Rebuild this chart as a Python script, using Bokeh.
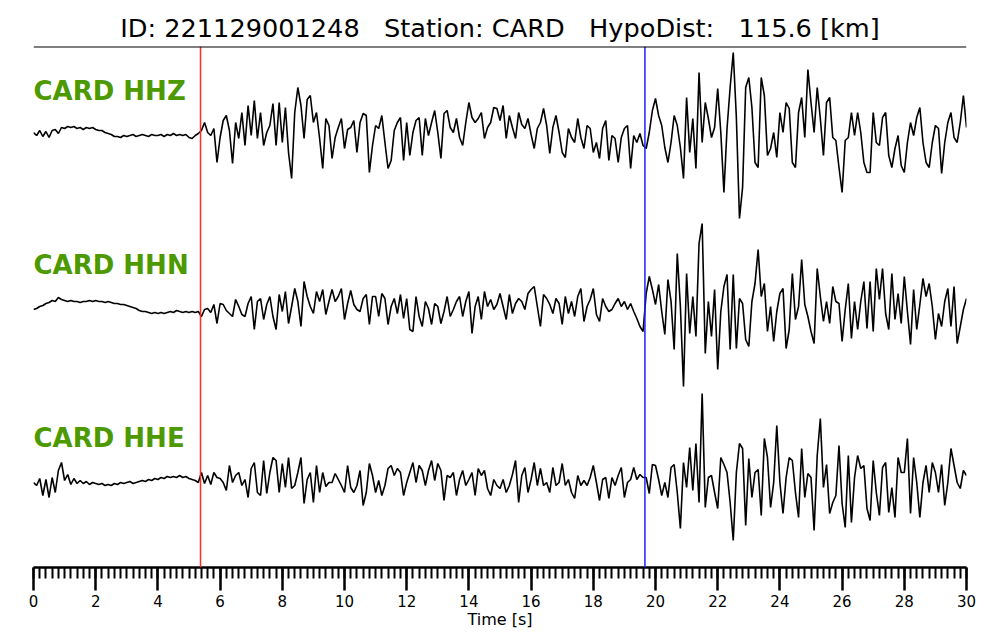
import numpy as np
from bokeh.plotting import figure
from bokeh.models import Range1d, Span, FixedTicker
from bokeh.embed import file_html
from bokeh.resources import INLINE
from bokeh.core.properties import value

# ---------------- data ----------------
DT = 0.1  # sample interval [s]

hhz = [
    0, -3, 2, -4, 1, -5, 2, 3, -1, 5,
    4, 6, 5, 6, 4, 5, 3, 5, 4, 5,
    3, 2, 2, 0, -1, -2, -4, -4, -5, -3,
    -4, -3, -2, -4, -3, -2, -3, -4, -2, -3,
    -3, -2, -4, -2, -3, -1, -3, -2, -3, -2,
    -5, -6, -3, -1, 2, 10, 0, -3, 4, -30,
    -5, 12, 17, 2, -31, 10, -6, 20, -13, 27,
    -3, 32, -6, 20, -13, 0, 7, 29, -13, 30,
    -10, 25, -20, -46, 20, 45, 27, -6, 33, 37,
    10, 20, -6, -36, 14, 7, -26, -5, 5, 14,
    -16, 3, 5, 12, -20, 10, 19, 17, -40, -13,
    7, 4, 17, -10, -36, -28, 2, 10, 15, -28,
    10, -23, 0, 12, 15, -23, 14, -3, 10, 22,
    0, -26, 19, 22, 5, 0, 14, -5, -13, 10,
    30, 15, 10, 14, 20, -6, 5, 10, 25, 24,
    12, 27, -6, 17, 5, -6, 20, 8, 4, 14,
    -2, -16, 4, 10, 24, 7, -21, 5, 17, 0,
    -20, -25, 4, -5, -10, 14, -5, -16, 7, 4,
    -20, -10, -26, 4, 12, -28, -3, -6, -30, -5,
    4, 7, -36, -3, -10, -1, -13, -16, 0, 22,
    34, 17, 7, -15, -30, -10, 17, 7, -15, -46,
    35, -20, 14, -36, 60, -10, 30, 14, -5, 5,
    44, 0, -60, 4, 45, 80, 15, -86, -55, 45,
    55, 25, -30, -35, 55, 37, -23, -16, 0, -25,
    20, 0, 30, 24, -30, -35, 20, 35, -5, 63,
    30, 0, 45, 14, -23, 30, 35, -5, -8, -35,
    -60, -8, -5, 20, -3, 20, 0, -30, -40, -40,
    20, -10, -13, 15, 20, -23, -35, -16, -3, -33,
    -40, -10, 10, -3, 15, 25, -10, -30, -35, -10,
    7, 4, -41, -10, 10, 20, -5, -10, 10, 37,
    5,
]

hhn = [
    -3, -2, 0, 1, 3, 4, 6, 5, 9, 7,
    6, 5, 6, 5, 5, 4, 5, 5, 6, 5,
    6, 5, 5, 4, 5, 4, 3, 3, 2, 2,
    1, 0, -1, -2, -4, -5, -5, -6, -7, -6,
    -7, -6, -7, -6, -5, -6, -4, -5, -6, -5,
    -6, -5, -6, -5, -10, -3, -2, -6, 2, -17,
    3, 2, -4, -7, -10, 7, 0, -8, -10, 3,
    10, -23, 5, 8, -13, 2, 10, -10, -23, 12,
    -5, 15, -17, 0, 18, 5, -20, 25, 10, 0,
    -7, 15, 5, 17, -8, 5, 17, 5, 10, 18,
    -13, 3, 16, 2, -3, -5, 8, 12, -18, 10,
    10, -10, 13, 8, -18, 0, 8, -7, 12, -12,
    8, -23, -25, 10, -10, -20, 5, -2, -18, 3,
    0, -17, -5, 10, -10, -3, 5, 10, -10, 5,
    15, -27, 0, 10, -13, 15, 0, 7, -3, 2,
    13, 0, -13, 12, -7, 3, 8, 5, -3, 13,
    17, 20, 0, -20, 12, 8, 2, -7, 8, 3,
    -18, 10, -7, 5, -10, 10, 18, -15, 0, 7,
    18, -8, -15, 8, 0, -5, -3, 3, 8, 0,
    5, -3, 3, -5, -12, -20, -25, 13, 30, 17,
    2, 22, -5, -28, 27, 5, -43, 53, 0, -80,
    33, -27, 10, -30, 63, 83, -47, 5, -30, 17,
    -63, -5, 20, 32, -43, 32, -42, 8, 3, -33,
    -40, 5, 23, 57, 10, 23, -25, 0, -35, -5,
    13, 18, -42, -23, 33, -13, 0, 47, 2, -10,
    -25, -37, 38, 10, -15, 5, -17, 20, 5, 3,
    -35, -3, 23, -32, 5, -23, 5, 25, -22, 25,
    -25, 38, 7, 38, -7, -23, 33, -13, 13, -17,
    30, -5, -38, 17, -23, 2, 28, 10, 23, 0,
    -33, -7, -20, 5, 18, -20, 20, -37, -20, -3,
    8,
]

hhe = [
    0, -3, 4, -13, 3, -15, 5, -10, 12, 20,
    2, 8, -2, 4, -1, 2, -1, 1, -2, 0,
    -1, -2, -1, -3, -2, -3, -1, -2, 0, -1,
    0, 1, -1, 0, 1, 2, 1, 3, 2, 4,
    3, 5, 4, 6, 5, 6, 5, 7, 5, 6,
    4, 3, 2, 0, 10, -1, 7, -2, 10, 5,
    4, 0, -8, 17, 0, 7, 10, -3, 3, -15,
    14, 20, -10, -13, 22, -11, 10, 25, 22, -10,
    19, -5, 25, -6, -3, 10, 25, -21, 3, 10,
    -20, 17, -10, 10, -4, 0, 0, 9, 3, -3,
    -10, 17, -5, -10, -3, 12, -23, -10, 19, 7,
    -10, 2, -13, -3, 14, 17, 7, 14, 10, -13,
    0, 10, 20, 0, 17, 12, -3, 12, 22, 2,
    19, 12, -18, 7, 5, 10, -13, 3, 12, -3,
    3, 10, -13, 14, 7, 12, -6, -13, 3, -3,
    -6, 3, -10, -3, 8, 22, -20, 7, 15, -10,
    3, 20, -3, 14, -3, 0, -10, 15, -3, 0,
    19, -3, 3, -10, -16, 7, -3, 2, -3, 5,
    17, 0, -18, 3, 5, -16, 5, -3, 7, 15,
    -15, 0, 3, 15, 3, 8, 5, 5, -11, 18,
    17, 3, -13, 0, -15, 15, 18, -10, -46, 20,
    -5, 35, -8, 39, -20, 89, -25, 5, 7, -10,
    -26, 25, 18, 10, -20, -58, 10, 39, 34, -43,
    24, -15, 10, 13, -33, 44, 25, -25, 0, 57,
    0, -31, 5, 25, 22, -10, -35, 34, -15, 9,
    5, -48, 27, 64, -5, 18, -31, -20, -13, 37,
    -21, -45, 27, -40, 5, 27, 14, 17, -26, -38,
    22, -10, -33, 15, 20, -30, -5, -35, 25, 10,
    10, 44, -31, 25, 0, -35, 0, 17, -10, 20,
    10, -10, 18, -23, 0, 34, 17, 0, -6, 12,
    7,
]

channels = ["CARD HHZ", "CARD HHN", "CARD HHE"]
p_pick = 5.37   # [s]
s_pick = 19.66  # [s]
event_id = "221129001248"
station = "CARD"
hypo_dist_km = 115.6
major_ticks = list(range(0, 31, 2))
minor_ticks = [round(i * 0.2, 1) for i in range(151)]
x_label = "Time [s]"

# ---------------- layout (not data) ----------------
GAP = "\u00a0\u00a0\u00a0"  # three non-collapsing spaces
title_text = (f"ID: {event_id}{GAP}Station: {station}{GAP}"
              f"HypoDist:{GAP}{hypo_dist_km:.1f} [km]")
traces = [hhz, hhn, hhe]
trace_offsets = [435, 261, 85]
label_y = [476.5, 303, 129.5]
Y_TOP = 521
FONT = "DejaVu Sans"

for tr in traces:
    assert len(tr) == 301, len(tr)

t = np.arange(301) * DT

p = figure(frame_width=933, frame_height=521,
           x_range=Range1d(0, 30), y_range=Range1d(0, Y_TOP),
           output_backend="svg", toolbar_location=None,
           y_axis_location=None, title=title_text,
           min_border_left=33, min_border_right=34, min_border_top=46,
           min_border_bottom=40)
p.outline_line_color = None
p.grid.visible = False
p.background_fill_color = "white"
p.border_fill_color = "white"

p.title.align = "center"
p.title.text_font = FONT
p.title.text_font_size = "25.6px"
p.title.text_font_style = "normal"
p.title.text_color = "black"
p.title.vertical_align = "bottom"
p.title.standoff = 7

for tr, off in zip(traces, trace_offsets):
    p.line(t, np.array(tr, dtype=float) + off, line_color="black", line_width=1.6)

p.text(x=[0, 0, 0], y=label_y, text=channels,
       text_font=value(FONT), text_font_style="bold", text_font_size="26px",
       text_color="#4c9a00", text_baseline="middle", text_align="left")

p.add_layout(Span(location=p_pick, dimension="height", line_color="#ff2a2a", line_width=1.5))
p.add_layout(Span(location=s_pick, dimension="height", line_color="#1f1fff", line_width=1.5))
p.add_layout(Span(location=Y_TOP, dimension="width", line_color="black", line_width=1.8))

ax = p.xaxis[0]
ax.ticker = FixedTicker(ticks=major_ticks, minor_ticks=minor_ticks)
ax.major_tick_in = 0
ax.major_tick_out = 23
ax.minor_tick_in = 0
ax.minor_tick_out = 11
ax.major_tick_line_width = 2.5
ax.minor_tick_line_width = 2
ax.axis_line_width = 2.5
ax.major_label_text_font = FONT
ax.major_label_text_font_size = "15px"
ax.major_label_text_color = "black"
ax.major_label_standoff = 4
ax.axis_label = x_label
ax.axis_label_text_font = FONT
ax.axis_label_text_font_size = "16px"
ax.axis_label_text_font_style = "normal"
ax.axis_label_text_color = "black"
ax.axis_label_standoff = 0

open("out.html", "w").write(file_html(p, INLINE))
